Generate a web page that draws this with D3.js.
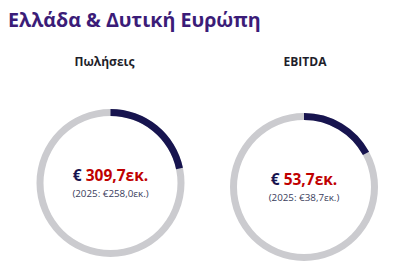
<!DOCTYPE html>
<html>
<head>
<meta charset="utf-8">
<script src="https://cdn.jsdelivr.net/npm/d3@7"></script>
<style>
  body { margin: 0; background: #fff; }
  text { font-family: "Open Sans", "Noto Sans", sans-serif; }
</style>
</head>
<body>
<div id="chart"></div>
<script>
// values
let titles = ["Πωλήσεις", "EBITDA"];
let values = ["309,7εκ.", "53,7εκ."];
let previous = ["(2025: €258,0εκ.)", "(2025: €38,7εκ.)"];
let shares = [0.217, 0.171];

let width = 402, height = 270;

let svg = d3.select("#chart")
    .append("svg")
    .attr("width", width)
    .attr("height", height);

svg.append("text")
    .attr("x", 8)
    .attr("y", 27)
    .attr("fill", "#3b1c78")
    .attr("font-size", 19.7)
    .attr("font-weight", 700)
    .text("Ελλάδα & Δυτική Ευρώπη");

let xScale = d3.scaleBand()
    .domain(titles)
    .range([13.75, 400.75]);

let angle = d3.scaleLinear()
    .domain([0, 1])
    .range([0, 2 * Math.PI]);

let outer = 74, thick = 7;
let arc = d3.arc()
    .innerRadius(outer - thick)
    .outerRadius(outer);

let cy = [183, 187];

titles.forEach(function(t, i) {
    let cx = xScale(t) + xScale.bandwidth() / 2;

    svg.append("text")
        .attr("x", cx - 6 + i * 7)
        .attr("y", 66)
        .attr("text-anchor", "middle")
        .attr("fill", "#1e1e2a")
        .attr("font-size", 12)
        .attr("font-weight", 700)
        .text(t);

    let g = svg.append("g")
        .attr("transform", "translate(" + cx + "," + cy[i] + ")");

    g.append("path")
        .attr("fill", "#cbcbcf")
        .attr("d", arc({startAngle: 0, endAngle: 2 * Math.PI}));

    g.append("path")
        .attr("fill", "#17144f")
        .attr("d", arc({startAngle: 0, endAngle: angle(shares[i])}));

    let main = g.append("text")
        .attr("y", -2)
        .attr("text-anchor", "middle")
        .attr("font-size", 15.5)
        .attr("font-weight", 700);
    main.append("tspan").attr("fill", "#17144f").text("€ ");
    main.append("tspan").attr("fill", "#c00000").text(values[i]);

    g.append("text")
        .attr("y", 13.5)
        .attr("text-anchor", "middle")
        .attr("fill", "#3a3d5c")
        .attr("font-size", 9.8)
        .text(previous[i]);
});
</script>
</body>
</html>
